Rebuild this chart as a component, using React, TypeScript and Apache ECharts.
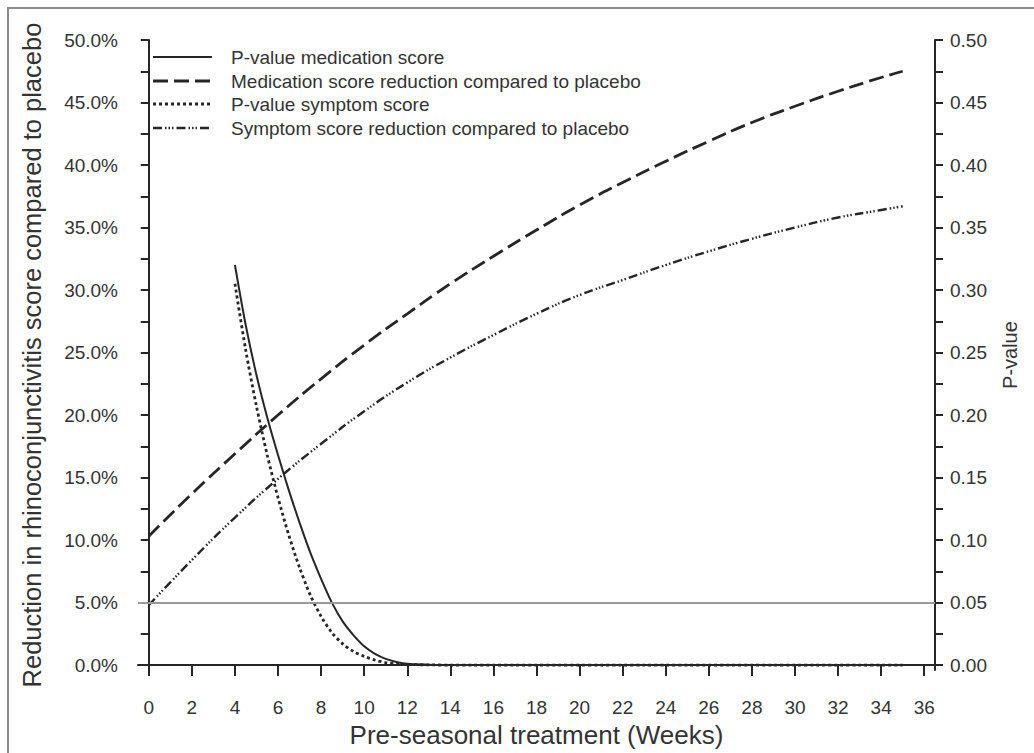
import React, { useEffect, useRef } from "react";
import * as echarts from "echarts";

// Weeks of pre-seasonal treatment at which the reduction curves are sampled
const weeksReduction = [0, 2, 4, 6, 8, 10, 12, 14, 16, 18, 20, 22, 24, 26, 28, 30, 32, 34, 35];
// Reduction compared to placebo (%)
const medicationReduction = [10.3, 13.7, 16.9, 20.0, 22.9, 25.6, 28.1, 30.5, 32.7, 34.8, 36.8, 38.6, 40.3, 41.9, 43.4, 44.7, 45.9, 47.0, 47.5];
const symptomReduction = [4.8, 8.4, 11.8, 14.9, 17.7, 20.3, 22.6, 24.6, 26.4, 28.1, 29.6, 30.8, 32.0, 33.1, 34.1, 35.0, 35.8, 36.4, 36.7];

// Weeks at which the p-value curves are sampled
const weeksPValue = [4, 4.5, 5, 5.5, 6, 6.5, 7, 7.5, 8, 8.5, 9, 9.5, 10, 10.5, 11, 11.5, 12, 13, 14, 15, 16, 17, 18, 19, 20, 21, 22, 23, 24, 25, 26, 27, 28, 29, 30, 31, 32, 33, 34, 35];
const pValueMedication = [0.320, 0.272, 0.232, 0.198, 0.168, 0.140, 0.114, 0.090, 0.069, 0.050, 0.035, 0.024, 0.015, 0.009, 0.005, 0.0025, 0.001, 0.0003, 0, 0, 0, 0, 0, 0, 0, 0, 0, 0, 0, 0, 0, 0, 0, 0, 0, 0, 0, 0, 0, 0];
const pValueSymptom = [0.305, 0.252, 0.207, 0.168, 0.134, 0.104, 0.078, 0.056, 0.039, 0.026, 0.017, 0.011, 0.007, 0.004, 0.002, 0.001, 0.0005, 0.0002, 0, 0, 0, 0, 0, 0, 0, 0, 0, 0, 0, 0, 0, 0, 0, 0, 0, 0, 0, 0, 0, 0];

const significanceLevel = 0.05;

// Axis ticks and labels
const weekTicks = [0, 2, 4, 6, 8, 10, 12, 14, 16, 18, 20, 22, 24, 26, 28, 30, 32, 34, 36];
const percentTicks = [0, 2.5, 5, 7.5, 10, 12.5, 15, 17.5, 20, 22.5, 25, 27.5, 30, 32.5, 35, 37.5, 40, 42.5, 45, 47.5, 50];
const percentLabels = [0, 5, 10, 15, 20, 25, 30, 35, 40, 45, 50];
const pTicks = [0, 0.025, 0.05, 0.075, 0.1, 0.125, 0.15, 0.175, 0.2, 0.225, 0.25, 0.275, 0.3, 0.325, 0.35, 0.375, 0.4, 0.425, 0.45, 0.475, 0.5];
const pLabels = [0, 0.05, 0.1, 0.15, 0.2, 0.25, 0.3, 0.35, 0.4, 0.45, 0.5];

const legendNames = [
  "P-value medication score",
  "Medication score reduction compared to placebo",
  "P-value symptom score",
  "Symptom score reduction compared to placebo",
];

const FONT = "'Liberation Sans', Arial, sans-serif";
const INK = "#262626";
const TEXT = "#333333";

const dashSolid: number[] | "solid" = "solid";
const dashLong = [15, 6];
const dashDotted = [3, 3];
const dashDotDot = [9, 3, 1.5, 2, 1.5, 2, 1.5, 3];

const styles = [
  { type: dashSolid, width: 2 },
  { type: dashLong, width: 2.8 },
  { type: dashDotted, width: 2.8 },
  { type: dashDotDot, width: 2.4 },
];

export default function App() {
  const ref = useRef<HTMLDivElement>(null);

  useEffect(() => {
    if (!ref.current) return;
    const chart = echarts.init(ref.current, undefined, { renderer: "svg" });

    const legendRowsY = [57, 81, 104, 128];
    const legendGraphics: any[] = [];
    legendNames.forEach((name, i) => {
      const s = styles[i];
      legendGraphics.push({
        type: "line",
        shape: { x1: 153, y1: legendRowsY[i], x2: 212, y2: legendRowsY[i] },
        style: { stroke: INK, lineWidth: s.width, lineDash: s.type === "solid" ? null : s.type },
        silent: true,
      });
      legendGraphics.push({
        type: "text",
        x: 231,
        y: legendRowsY[i],
        style: {
          text: name,
          fill: TEXT,
          font: `19px ${FONT}`,
          textVerticalAlign: "middle",
          verticalAlign: "middle",
        },
        silent: true,
      });
    });

    const axisLine = { show: true, lineStyle: { color: INK, width: 2 } };
    const axisTick = { show: true, length: 8, lineStyle: { color: INK, width: 2 } };
    const labelStyle = { color: TEXT, fontSize: 19, fontFamily: FONT };

    chart.setOption({
      animation: false,
      backgroundColor: "#ffffff",
      grid: { left: 138, right: 99, top: 40, bottom: 80, containLabel: false },
      xAxis: {
        type: "value",
        min: -0.5,
        max: 36.5,
        name: "Pre-seasonal treatment (Weeks)",
        nameLocation: "middle",
        nameGap: 49,
        nameTextStyle: { color: TEXT, fontSize: 26, fontFamily: FONT },
        axisLine,
        axisTick: { ...axisTick, customValues: weekTicks, length: 11 },
        axisLabel: { ...labelStyle, margin: 28, customValues: weekTicks },
        splitLine: { show: false },
      },
      yAxis: [
        {
          type: "value",
          position: "left",
          min: -0.4,
          max: 50,
          name: "Reduction in rhinoconjunctivitis score compared to placebo",
          nameLocation: "middle",
          nameGap: 93,
          nameTextStyle: { color: TEXT, fontSize: 25.5, fontFamily: FONT },
          axisLine,
          axisTick: { ...axisTick, customValues: percentTicks },
          axisLabel: {
            ...labelStyle,
            margin: 20,
            customValues: percentLabels,
            formatter: (v: number) => v.toFixed(1) + "%",
          },
          splitLine: { show: false },
        },
        {
          type: "value",
          position: "right",
          min: -0.004,
          max: 0.5,
          name: "P-value",
          nameLocation: "middle",
          nameGap: 65,
          nameTextStyle: { color: TEXT, fontSize: 20, fontFamily: FONT },
          axisLine,
          axisTick: { ...axisTick, customValues: pTicks },
          axisLabel: {
            ...labelStyle,
            margin: 15,
            customValues: pLabels,
            formatter: (v: number) => v.toFixed(2),
          },
          splitLine: { show: false },
        },
      ],
      series: [
        {
          name: legendNames[0],
          type: "line",
          yAxisIndex: 1,
          data: weeksPValue.map((w, i) => [w, pValueMedication[i]]),
          showSymbol: false,
          smooth: 0.3,
          lineStyle: { color: INK, width: styles[0].width, type: styles[0].type },
          markLine: {
            silent: true,
            symbol: "none",
            label: { show: false },
            lineStyle: { color: "#9a9a9a", width: 2, type: "solid" },
            data: [{ yAxis: significanceLevel }],
          },
          z: 3,
        },
        {
          name: legendNames[1],
          type: "line",
          yAxisIndex: 0,
          data: weeksReduction.map((w, i) => [w, medicationReduction[i]]),
          showSymbol: false,
          smooth: true,
          lineStyle: { color: INK, width: styles[1].width, type: styles[1].type },
          z: 3,
        },
        {
          name: legendNames[2],
          type: "line",
          yAxisIndex: 1,
          data: weeksPValue.map((w, i) => [w, pValueSymptom[i]]),
          showSymbol: false,
          smooth: 0.3,
          lineStyle: { color: INK, width: styles[2].width, type: styles[2].type },
          z: 3,
        },
        {
          name: legendNames[3],
          type: "line",
          yAxisIndex: 0,
          data: weeksReduction.map((w, i) => [w, symptomReduction[i]]),
          showSymbol: false,
          smooth: true,
          lineStyle: { color: INK, width: styles[3].width, type: styles[3].type },
          z: 3,
        },
      ],
      graphic: [
        {
          type: "rect",
          shape: { x: 8, y: 8, width: 1040, height: 760 },
          style: { fill: "none", stroke: "#8c8c8c", lineWidth: 2 },
          silent: true,
          z: -1,
        },
        ...legendGraphics,
      ],
    });

    return () => chart.dispose();
  }, []);

  return (
    <div
      ref={ref}
      style={{ position: "absolute", left: 0, top: 0, width: 1034, height: 753 }}
    />
  );
}
